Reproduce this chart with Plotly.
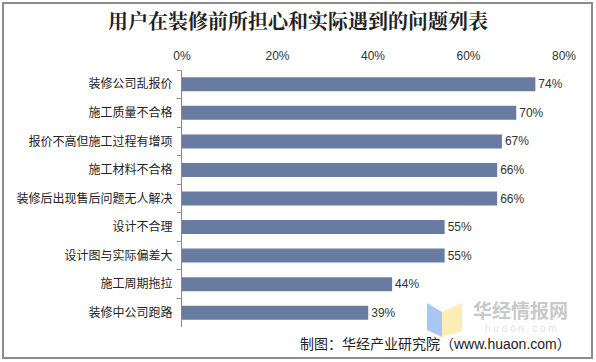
import plotly.graph_objects as go

categories = ["装修公司乱报价", "施工质量不合格", "报价不高但施工过程有增项", "施工材料不合格",
              "装修后出现售后问题无人解决", "设计不合理", "设计图与实际偏差大", "施工周期拖拉", "装修中公司跑路"]
values = [74, 70, 67, 66, 66, 55, 55, 44, 39]
x_ticks = [0, 20, 40, 60, 80]
title_text = "用户在装修前所担心和实际遇到的问题列表"
source_text = "制图：华经产业研究院（www.huaon.com）"

W, H = 596, 362
L, R, T, B = 182, 32, 70, 35
pw, ph = W - L - R, H - T - B

def px(x):
    return (x - L) / pw

def py(y):
    return 1 - (y - T) / ph

FONT = "Liberation Sans, Arial, Noto Sans CJK SC, sans-serif"

fig = go.Figure(go.Bar(
    x=values, y=categories, orientation="h",
    marker=dict(color="#687BA1", line=dict(width=0)),
    text=[f"{v}%" for v in values], textposition="outside",
    textfont=dict(size=12, color="#333333", family=FONT),
    cliponaxis=False, hoverinfo="skip",
))

fig.update_layout(
    width=W, height=H, margin=dict(l=L, r=R, t=T, b=B),
    paper_bgcolor="white", plot_bgcolor="white",
    font=dict(family=FONT, size=12, color="#333333"),
    bargap=0.51, showlegend=False,
    title=dict(text=title_text, x=0.5, xref="container", xanchor="center",
               y=1 - 22 / H, yref="container", yanchor="middle",
               font=dict(family="Noto Serif CJK SC, Noto Sans CJK SC, serif", size=20,
                         color="#222222", weight="bold")),
)
fig.update_xaxes(side="top", range=[0, 80], tickvals=x_ticks, ticktext=[f"{t}%" for t in x_ticks],
                 showgrid=False, zeroline=False, showline=False, ticks="",
                 ticklabelstandoff=7, tickfont=dict(size=12, color="#333333"))
fig.update_yaxes(autorange="reversed", showgrid=False, zeroline=False, showline=True,
                 linecolor="#8A8A8A", linewidth=1, ticks="outside", ticklen=4,
                 tickcolor="#8A8A8A", tickson="boundaries", ticklabelstandoff=6,
                 tickfont=dict(size=12, color="#222222", family="Noto Sans CJK SC, sans-serif"))

shapes = []
# outer border
shapes.append(dict(type="rect", xref="paper", yref="paper",
                   x0=px(3), x1=px(592), y0=py(358), y1=py(3),
                   line=dict(color="#8C8C8C", width=2), fillcolor="rgba(0,0,0,0)", layer="below"))
# watermark book icon
shapes.append(dict(type="path", xref="paper", yref="paper",
                   path=f"M {px(427)},{py(303)} L {px(442)},{py(312)} L {px(442)},{py(337)} L {px(427)},{py(330)} Z",
                   fillcolor="rgba(140,180,240,0.75)", line=dict(width=0), layer="above"))
shapes.append(dict(type="path", xref="paper", yref="paper",
                   path=f"M {px(442)},{py(312)} L {px(462)},{py(303)} L {px(462)},{py(331)} L {px(442)},{py(337)} Z",
                   fillcolor="rgba(250,232,160,0.8)", line=dict(width=0), layer="above"))
fig.update_layout(shapes=shapes)

fig.add_annotation(text="华经情报网", xref="paper", yref="paper", x=px(471), y=py(309),
                   xanchor="left", yanchor="middle", showarrow=False,
                   font=dict(size=19, color="#C9C9C9", family="Noto Sans CJK SC, sans-serif", weight="bold"))
fig.add_annotation(text="h u a o n . c o m", xref="paper", yref="paper", x=px(521), y=py(328),
                   xanchor="center", yanchor="middle", showarrow=False,
                   font=dict(size=10, color="#E2E2E2", family="Liberation Sans, sans-serif"))
fig.add_annotation(text=source_text, xref="paper", yref="paper", x=px(573), y=py(344),
                   xanchor="right", yanchor="middle", showarrow=False,
                   font=dict(size=14, color="#222222", family="Liberation Sans, Noto Sans CJK SC, sans-serif"))

fig.write_html("out.html")
